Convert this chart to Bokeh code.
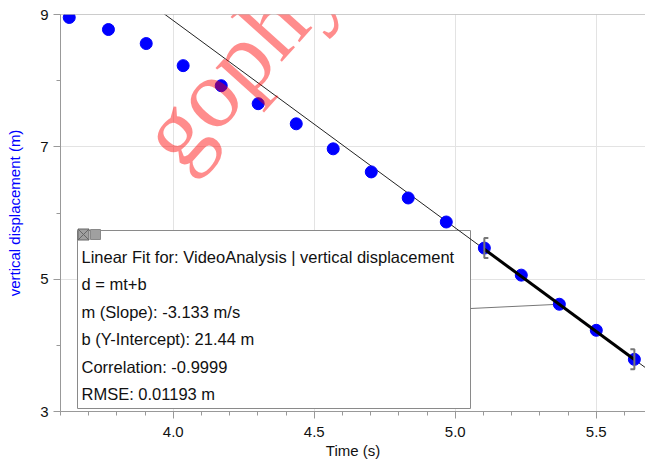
import math
from bokeh.plotting import figure
from bokeh.models import FixedTicker, Label, Span, Range1d, NumeralTickFormatter
from bokeh.core.properties import value
from bokeh.embed import file_html
from bokeh.resources import INLINE

# ---- data ----
time_s = [3.631, 3.770, 3.904, 4.035, 4.170, 4.301, 4.436, 4.567,
          4.702, 4.833, 4.968, 5.103, 5.234, 5.369, 5.500, 5.635]
displacement_m = [8.955, 8.773, 8.561, 8.227, 7.924, 7.652, 7.348, 6.970,
                  6.621, 6.227, 5.864, 5.470, 5.061, 4.621, 4.227, 3.788]
fit_slope = -3.133
fit_intercept = 21.44
fit_first = 11
fit_last = 15
x_ticks = [4.0, 4.5, 5.0, 5.5]
y_ticks = [3, 5, 7, 9]
fit_lines = [
    "Linear Fit for: VideoAnalysis | vertical displacement",
    "d = mt+b",
    "m (Slope): -3.133 m/s",
    "b (Y-Intercept): 21.44 m",
    "Correlation: -0.9999",
    "RMSE: 0.01193 m",
]
watermark = "gophysics"

# ---- layout ----
W, H = 645, 466
BL, BR, BT, BB = 60, 0, 14, 55
FW, FH = W - BL - BR, H - BT - BB
x_start, x_end = 3.6, 3.6 + FW / 282.0
y_start, y_end = 3.0, 9.0

def px2x(px):
    return x_start + (px - BL) * (x_end - x_start) / FW

def py2y(py):
    return y_end - (py - BT) * (y_end - y_start) / FH

FONT = "Liberation Sans"

p = figure(width=W, height=H, output_backend="svg", toolbar_location=None,
           x_range=Range1d(x_start, x_end), y_range=Range1d(y_start, y_end),
           min_border_left=BL, min_border_right=BR, min_border_top=BT,
           min_border_bottom=BB)
p.outline_line_color = None
p.background_fill_color = "white"
p.border_fill_color = "white"

x_minor = [round(x_ticks[0] - 0.4 + 0.1 * i, 1) for i in range(21)]
y_minor = [(a + b) / 2 for a, b in zip(y_ticks[:-1], y_ticks[1:])]
p.xaxis.ticker = FixedTicker(ticks=x_ticks, minor_ticks=x_minor)
p.yaxis.ticker = FixedTicker(ticks=y_ticks, minor_ticks=y_minor)
p.xaxis.formatter = NumeralTickFormatter(format="0.0")
p.yaxis.formatter = NumeralTickFormatter(format="0")

for ax in (p.xaxis[0], p.yaxis[0]):
    ax.axis_line_color = "#999999"
    ax.major_tick_line_color = "#999999"
    ax.minor_tick_line_color = "#999999"
    ax.major_tick_out = 7
    ax.major_tick_in = 0
    ax.minor_tick_out = 4
    ax.minor_tick_in = 0
    ax.major_label_text_font = FONT
    ax.major_label_text_font_size = "15px"
    ax.major_label_text_color = "#111111"
    ax.axis_label_text_font = FONT
    ax.axis_label_text_font_style = "normal"
    ax.axis_label_text_font_size = "15px"

p.xaxis.axis_label = "Time (s)"
p.xaxis.major_label_standoff = 8
p.xaxis.axis_label_standoff = 2
p.xaxis.axis_label_text_color = "#111111"
p.yaxis.axis_label = "vertical displacement (m)"
p.yaxis.axis_label_text_color = "#0000ff"
p.yaxis.major_label_standoff = 5
p.yaxis.axis_label_standoff = 14

p.grid.grid_line_color = "#e3e3e3"
p.grid.grid_line_width = 1

p.add_layout(Span(location=y_ticks[-1], dimension="width",
                  line_color="#999999", line_width=1))

# annotation box (white, covers grid)
bx_l, bx_r, bx_t, bx_b = px2x(77), px2x(470), py2y(230), py2y(408)
p.quad(left=[bx_l], right=[bx_r], top=[bx_t], bottom=[bx_b],
       fill_color="white", line_color="#8a8a8a", line_width=1)

# fit line across the whole range
fx = [x_start, x_end]
p.line(fx, [fit_slope * v + fit_intercept for v in fx],
       line_color="#222222", line_width=1)

# connector from box to a fitted point
p.line([bx_r, time_s[13]], [py2y(308), displacement_m[13]],
       line_color="#777777", line_width=1)

# data points
p.scatter(time_s, displacement_m, size=12, fill_color="#0000ff",
          line_color="#0000ff")

# thick fit segment
sx = [time_s[fit_first], time_s[fit_last]]
p.line(sx, [fit_slope * v + fit_intercept for v in sx],
       line_color="black", line_width=3)

# brackets at fit range ends
dxp = (x_end - x_start) / FW
dyp = (y_end - y_start) / FH
x0, y0 = time_s[fit_first], displacement_m[fit_first]
x1, y1 = time_s[fit_last], displacement_m[fit_last]
p.multi_line(
    xs=[[x0 + 4 * dxp, x0, x0, x0 + 4 * dxp], [x1 - 4 * dxp, x1, x1, x1 - 4 * dxp]],
    ys=[[y0 + 10 * dyp, y0 + 10 * dyp, y0 - 10 * dyp, y0 - 10 * dyp],
        [y1 + 10 * dyp, y1 + 10 * dyp, y1 - 10 * dyp, y1 - 10 * dyp]],
    line_color="#777777", line_width=2)

# close / minimise icons of the box
p.scatter([px2x(83)], [py2y(234)], marker="square_x", size=11,
          fill_color="#a0a0a0", line_color="#666666")
p.scatter([px2x(95)], [py2y(234)], marker="square", size=10,
          fill_color="#a0a0a0", line_color="#888888")

# box text
ty = [py2y(256 + 27.5 * i) for i in range(len(fit_lines))]
p.text(x=[px2x(81)] * len(fit_lines), y=ty, text=fit_lines,
       text_font=value(FONT), text_font_size="16.5px", text_color="#111111",
       text_baseline="middle", text_align="left")

# watermark
p.add_layout(Label(x=px2x(157), y=py2y(150), text=watermark,
                   angle=math.radians(48), text_font="Liberation Serif",
                   text_font_size="98px", text_color="red", text_alpha=0.45,
                   text_baseline="alphabetic", text_align="left"))

open("out.html", "w").write(file_html(p, INLINE))
